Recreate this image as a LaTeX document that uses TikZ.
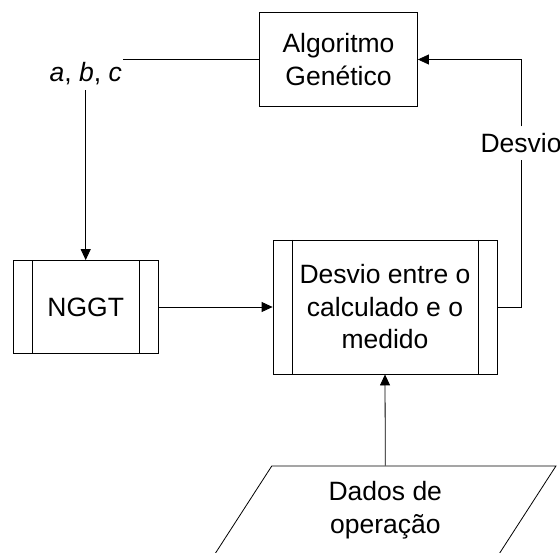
\documentclass[tikz,border=0pt]{standalone}
\usepackage{fontspec}
\setmainfont{Liberation Sans}
\usetikzlibrary{arrows.meta}
\usetikzlibrary{shapes.geometric}
\usetikzlibrary{positioning}
\tikzset{
  box/.style={draw, line width=0.8pt, align=center, inner sep=0pt},
  procbox/.style={box, path picture={%
      \draw[line width=0.8pt] ([xshift=19pt]path picture bounding box.north west) -- ([xshift=19pt]path picture bounding box.south west);
      \draw[line width=0.8pt] ([xshift=-19pt]path picture bounding box.north east) -- ([xshift=-19pt]path picture bounding box.south east);}},
  lbl/.style={inner sep=0pt, fill=white, minimum height=33pt},
  arr/.style={line width=0.8pt, -{Triangle[length=11pt,width=10pt]}},
  con/.style={line width=0.8pt},
}

\begin{document}
\begin{tikzpicture}[x=1pt, y=1pt, font=\fontsize{26.5}{32.5}\selectfont]
        \useasboundingbox (0,0) rectangle (560,-553);%
        \node[procbox, minimum width=224pt, minimum height=134pt] (desvio) at (385,-307) {Desvio entre o\\calculado e o\\medido};%
        \node[procbox, minimum width=145pt, minimum height=93pt, left=114pt of desvio] (nggt) {NGGT};%
        \node[box, minimum width=158pt, minimum height=94.5pt] (ag) at (338.5,-59.5) {Algoritmo\\Genético};%
        \node[inner sep=0pt, minimum width=74pt, minimum height=32pt] (abc) at (nggt.north |- 0,-74) {\textit{a}, \textit{b}, \textit{c}};%
        \node[lbl] (dlab) at (521,-143) {Desvio};%
        \node[draw, line width=0.8pt, trapezium, trapezium left angle=63.5, trapezium right angle=116.5,
              trapezium stretches=true, minimum width=341.5pt, minimum height=88.5pt, align=center, inner sep=0pt]
              (dados) at (385.3,-510.2) {Dados de\\operação};%
        \draw[con] (ag.west) -- (ag.west -| abc.east); %
        \draw[arr] (abc.south) -- (nggt.north); %
        \draw[arr] (nggt.east) -- (desvio.west); %
        \draw[arr] (dados.north) -- (desvio.south); %
        \draw[con] (desvio.east) -| (dlab.south); %
        \draw[arr] (dlab.north) |- (ag.east); %
      \end{tikzpicture}
\end{document}
